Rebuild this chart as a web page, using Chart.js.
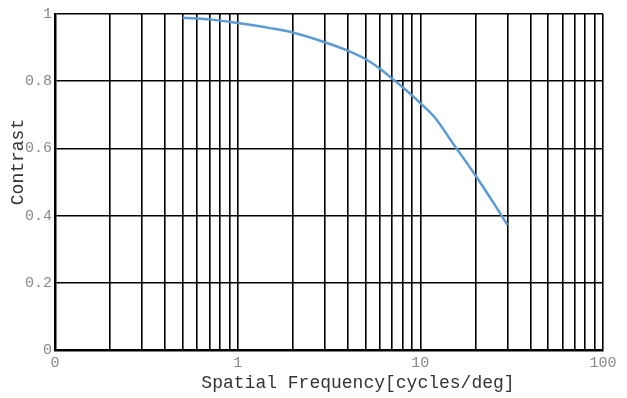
<!DOCTYPE html>
<html>
<head>
<meta charset="utf-8">
<script src="https://cdn.jsdelivr.net/npm/chart.js@4/dist/chart.umd.min.js"></script>
<style>
    html, body { margin: 0; padding: 0; background: #fff; }
    #wrap { width: 627px; height: 398px; }
</style>
</head>
<body>
<div id="wrap"><canvas id="csfChart"></canvas></div>
<script>
// === DATA ===
const frequency = [0.5, 0.7, 1, 1.5, 2, 3, 4, 5, 6, 7, 8, 9, 10, 12, 15, 20, 25, 30];
const contrast = [0.989, 0.984, 0.973, 0.958, 0.945, 0.916, 0.891, 0.866, 0.838, 0.808, 0.782, 0.758, 0.735, 0.692, 0.617, 0.520, 0.440, 0.372];

const xGridValues = [0.1, 0.2, 0.3, 0.4, 0.5, 0.6, 0.7, 0.8, 0.9,
    1, 2, 3, 4, 5, 6, 7, 8, 9,
    10, 20, 30, 40, 50, 60, 70, 80, 90, 100];
const xLabelValues = [0.1, 1, 10, 100];
const xLabelTexts = ['0', '1', '10', '100'];

const yTickValues = [0, 0.2, 0.4, 0.6, 0.8, 1];
const yTickLabels = ['0', '0.2', '0.4', '0.6', '0.8', '1'];

const xTitle = 'Spatial Frequency[cycles/deg]';
const yTitle = 'Contrast';

const MONO = '"Liberation Mono", "DejaVu Sans Mono", monospace';

// titles drawn by hand so they sit where the original puts them
const axisTitles = {
    id: 'axisTitles',
    afterDraw(chart) {
        const ctx = chart.ctx;
        ctx.save();
        ctx.fillStyle = '#333';
        ctx.font = '18px ' + MONO;
        ctx.textAlign = 'center';
        ctx.textBaseline = 'middle';
        ctx.fillText(xTitle, 358, 383);
        ctx.translate(18, 162);
        ctx.rotate(-Math.PI / 2);
        ctx.fillText(yTitle, 0, 0);
        ctx.restore();
    }
};

new Chart(document.getElementById('csfChart'), {
    type: 'line',
    data: {
        labels: frequency,
        datasets: [{
            data: frequency.map((f, i) => ({ x: f, y: contrast[i] })),
            borderColor: '#5b9bd5',
            borderWidth: 2.5,
            pointRadius: 0,
            fill: false,
            cubicInterpolationMode: 'monotone',
        }]
    },
    options: {
        responsive: true,
        maintainAspectRatio: false,
        animation: false,
        layout: { padding: { left: 0, right: 24, top: 14, bottom: 0 } },
        plugins: {
            legend: { display: false },
            tooltip: { enabled: false }
        },
        scales: {
            x: {
                type: 'logarithmic',
                min: 0.1,
                max: 100,
                afterBuildTicks(scale) {
                    scale.ticks = xGridValues.map(v => ({ value: v }));
                },
                afterFit(scale) { scale.height = 48; },
                grid: { color: '#000', lineWidth: 1.6, drawTicks: false },
                border: { display: true, color: '#000', width: 2.5 },
                ticks: {
                    autoSkip: false,
                    maxRotation: 0,
                    padding: 4,
                    color: '#888',
                    font: { size: 15, family: MONO },
                    callback(value) {
                        const i = xLabelValues.indexOf(value);
                        return i >= 0 ? xLabelTexts[i] : '';
                    }
                }
            },
            y: {
                min: 0,
                max: 1,
                afterBuildTicks(scale) {
                    scale.ticks = yTickValues.map(v => ({ value: v }));
                },
                afterFit(scale) { scale.width = 55; },
                grid: { color: '#000', lineWidth: 1.6, drawTicks: false },
                border: { display: true, color: '#000', width: 2.5 },
                ticks: {
                    padding: 3,
                    color: '#888',
                    font: { size: 15, family: MONO },
                    callback(value, index) { return yTickLabels[index]; }
                }
            }
        }
    },
    plugins: [axisTitles]
});
</script>
</body>
</html>
